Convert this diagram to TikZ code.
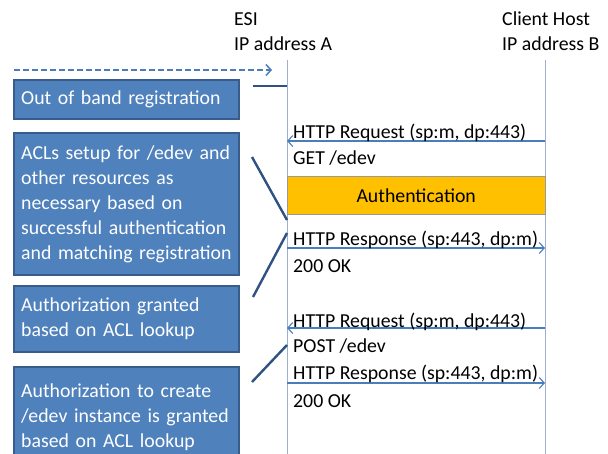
\documentclass[tikz,border=0pt]{standalone}
\usepackage{fontspec}
\setmainfont{Carlito}
\usepackage{tikz}
\usetikzlibrary{positioning,arrows.meta}
\usepackage{xcolor}
\definecolor{boxblue}{HTML}{4F81BD}
\definecolor{boxedge}{HTML}{385D8A}
\definecolor{msgblue}{HTML}{4A7EBB}
\definecolor{lifegray}{HTML}{9DB0CE}
\definecolor{notedark}{HTML}{2F5283}
\definecolor{authgold}{HTML}{FFC000}

\begin{document}
\begin{tikzpicture}[x=1pt,y=-1pt,>={Straight Barb[length=5pt,width=11pt]},
  every node/.style={font=\fontsize{19.8}{25}\selectfont},
  txt/.style={anchor=base west,inner sep=0pt},
  note/.style={draw=boxedge,line width=2.4pt,fill=boxblue,text=white,
    anchor=north west,align=left,text width=211pt,inner xsep=7pt,inner ysep=4pt},
  life/.style={draw=lifegray,line width=1pt},
  msg/.style={draw=msgblue,line width=1.1pt,->},
  link/.style={draw=notedark,line width=2.4pt}]
  \useasboundingbox (0,0) rectangle (608,453);

  % headers and lifelines
  \node[txt] (esi) at (234,25) {ESI};
  \node[txt] (esiip) at (234,50) {IP address A};
  \node[txt] (host) at (502,25) {Client Host};
  \node[txt] (hostip) at (502,50) {IP address B};
  \coordinate (esitop) at (287,60);
  \coordinate (esibot) at (287,460);
  \coordinate (hosttop) at (545,60);
  \coordinate (hostbot) at (545,460);
  \draw[life] (esitop) -- (esibot);
  \draw[life] (hosttop) -- (hostbot);

  % notes on the left
  \node[note,minimum height=39pt] (oob) at (13,79) {Out of band registration};
  \node[note,minimum height=142pt] (acl) at (13,132)
    {ACLs setup for /edev and\\other resources as\\necessary based on\\successful authentication\\and matching registration};
  \node[note,minimum height=66pt] (authz) at (13,285)
    {Authorization granted\\based on ACL lookup};
  \node[note,minimum height=100pt] (create) at (13,366)
    {Authorization to create\\/edev instance is granted\\based on ACL lookup};

  % out of band
  \coordinate (dashin) at (14,70);
  \coordinate (dashout) at (272,70);
  \draw[msg,line width=1.5pt,dash pattern=on 6pt off 3pt] (dashin) -- (dashout);

  % message coordinates
  \coordinate (m1a) at (287,141);  \coordinate (m1b) at (545,141);
  \coordinate (m2a) at (287,248);  \coordinate (m2b) at (545,248);
  \coordinate (m3a) at (287,328);  \coordinate (m3b) at (545,328);
  \coordinate (m4a) at (287,383);  \coordinate (m4b) at (545,383);

  \draw[msg] (m1b) -- (m1a);
  \node[txt] (m1t) at (293,138) {HTTP Request (sp:m, dp:443)};
  \node[txt] (m1s) at (293,164) {GET /edev};

  \node[draw=gray!80,fill=authgold,anchor=north west,minimum width=258pt,
    minimum height=38pt,inner sep=0pt] (auth) at (287,176) {Authentication};

  \draw[msg] (m2a) -- (m2b);
  \node[txt] (m2t) at (293,245) {HTTP Response (sp:443, dp:m)};
  \node[txt] (m2s) at (293,272) {200 OK};

  \draw[msg] (m3b) -- (m3a);
  \node[txt] (m3t) at (293,327) {HTTP Request (sp:m, dp:443)};
  \node[txt] (m3s) at (293,352) {POST /edev};

  \draw[msg] (m4a) -- (m4b);
  \node[txt] (m4t) at (293,379) {HTTP Response (sp:443, dp:m)};
  \node[txt] (m4s) at (293,407) {200 OK};

  % links from notes to lifeline
  \coordinate (k1a) at (253,86);   \coordinate (k1b) at (287,86);
  \coordinate (k2a) at (252,157);  \coordinate (k2b) at (287,220);
  \coordinate (k3a) at (287,233);  \coordinate (k3b) at (253,297);
  \coordinate (k4a) at (287,345);  \coordinate (k4b) at (252,382);
  \draw[link] (k1a) -- (k1b);
  \draw[link] (k2a) -- (k2b);
  \draw[link] (k3a) -- (k3b);
  \draw[link] (k4a) -- (k4b);
\end{tikzpicture}
\end{document}
